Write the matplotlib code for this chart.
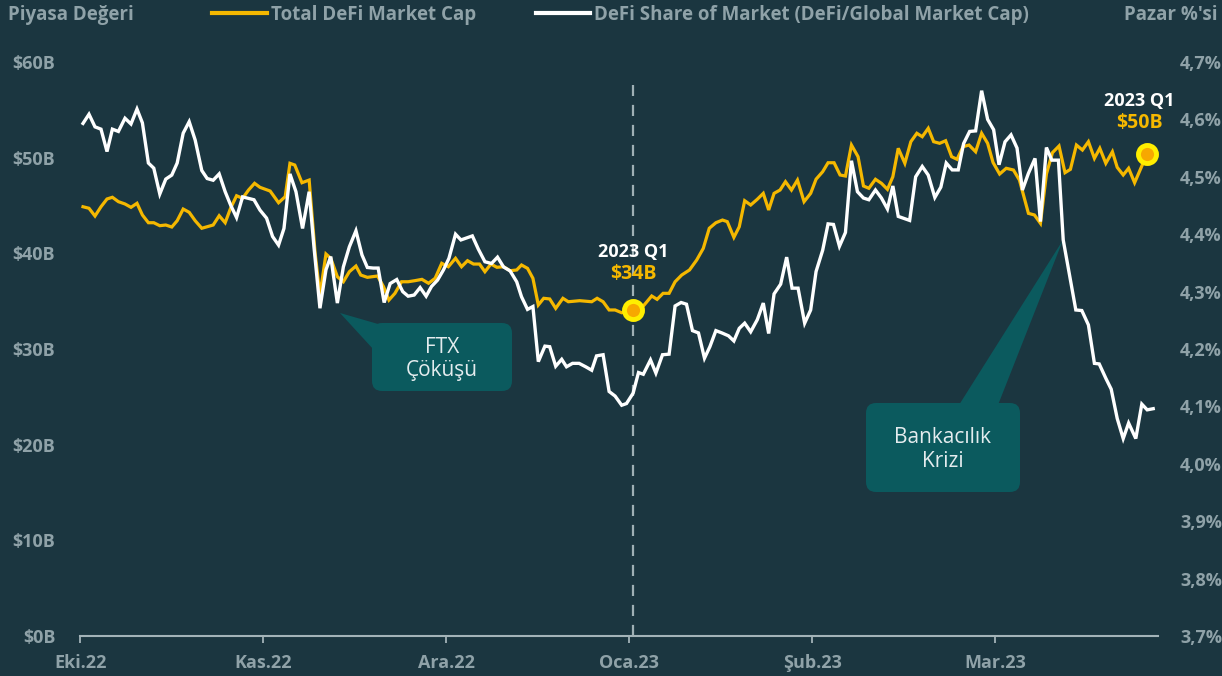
import numpy as np
import matplotlib.pyplot as plt
from matplotlib.lines import Line2D
from matplotlib.patches import FancyBboxPatch, Polygon
from matplotlib.ticker import FuncFormatter

plt.rcParams['font.family'] = ['Open Sans', 'DejaVu Sans']
plt.rcParams['font.weight'] = 'bold'

# x values are days since 1 Oct 2022
cap_days = [0.0, 1.0, 2.0, 3.0, 4.0, 4.9, 5.9, 7.0, 8.0, 9.0, 9.9, 10.9, 11.8, 12.8, 13.8, 14.8,
            15.7, 16.7, 17.7, 18.7, 19.8, 20.7, 21.7, 22.7, 23.7, 24.6, 25.6, 26.6, 27.6, 28.6,
            29.5, 31.2, 32.6, 33.7, 34.5, 35.3, 36.5, 37.7, 38.7, 39.5, 40.5, 41.3, 42.4, 43.4,
            44.4, 45.5, 46.3, 47.4, 49.1, 50.1, 51.0, 52.0, 53.1, 54.2, 55.3, 56.5, 57.6, 58.7,
            59.8, 60.9, 62.1, 63.1, 64.1, 65.1, 66.1, 67.0, 68.0, 69.0, 70.1, 71.2, 72.3, 73.1,
            74.1, 75.0, 75.9, 76.8, 77.8, 78.8, 80.0, 80.9, 82.8, 84.8, 85.7, 86.7, 87.7, 88.7,
            89.8, 91.7, 93.4, 94.8, 95.7, 96.7, 97.7, 98.7, 99.8, 101.1, 102.3, 103.4, 104.4,
            105.5, 106.6, 107.4, 108.5, 109.4, 110.3, 111.3, 112.4, 113.4, 114.3, 115.2, 116.2,
            117.1, 118.1, 119.1, 120.2, 121.3, 122.2, 123.3, 124.2, 125.2, 126.2, 127.1, 128.1,
            129.2, 130.1, 131.0, 132.1, 133.1, 134.1, 135.0, 135.9, 137.0, 138.0, 139.0, 139.9,
            140.9, 141.8, 142.8, 143.8, 144.8, 145.7, 146.7, 147.7, 148.8, 149.8, 150.8, 151.7,
            152.8, 153.9, 155.1, 156.1, 156.7, 157.6, 158.6, 159.6, 160.6, 161.6, 162.7, 163.7,
            164.6, 165.6, 166.6, 167.6, 168.6, 169.5, 170.5, 171.6, 172.4, 173.4, 174.3, 175.3,
            176.7, 177.3]
defi_cap = [44.87, 44.71, 43.90, 44.87, 45.68, 45.86, 45.40, 45.16, 44.81, 45.23, 44.01, 43.20,
            43.20, 42.89, 42.96, 42.75, 43.41, 44.63, 44.29, 43.41, 42.62, 42.78, 42.96, 43.93,
            43.20, 44.71, 46.02, 45.75, 46.62, 47.32, 46.90, 46.51, 45.29, 45.92, 49.41, 49.23,
            47.38, 47.66, 40.00, 35.64, 39.93, 39.48, 37.56, 37.03, 38.08, 38.67, 37.73, 37.49,
            37.63, 36.51, 35.12, 35.82, 37.03, 37.03, 37.14, 37.28, 36.87, 37.39, 38.96, 38.60,
            39.48, 38.60, 39.23, 38.88, 38.88, 38.08, 38.88, 38.54, 38.60, 38.18, 38.26, 38.78,
            38.43, 37.39, 34.60, 35.30, 35.23, 34.25, 35.30, 34.94, 35.05, 34.94, 35.30, 34.94,
            34.08, 34.08, 33.79, 34.08, 34.49, 35.54, 35.19, 35.82, 35.82, 37.03, 37.73, 38.26,
            39.30, 40.52, 42.62, 43.20, 43.48, 43.31, 41.67, 42.78, 45.50, 45.05, 45.65, 46.27,
            44.53, 46.27, 46.62, 47.49, 46.62, 47.66, 45.40, 46.27, 47.75, 48.53, 49.47, 49.47,
            48.19, 48.08, 51.32, 50.10, 47.04, 46.80, 47.74, 47.32, 46.69, 48.01, 50.98, 49.41,
            51.67, 52.55, 52.19, 53.07, 51.67, 51.50, 51.77, 50.10, 49.83, 51.15, 51.32, 50.62,
            52.55, 51.50, 49.50, 48.29, 48.89, 48.71, 47.66, 46.27, 44.18, 44.01, 43.14, 48.29,
            50.52, 51.22, 48.43, 48.78, 51.32, 50.80, 51.67, 49.93, 50.98, 49.41, 50.62, 48.99,
            48.19, 48.89, 47.38, 49.41, 50.38]

share_days = [0.0, 1.0, 2.0, 3.0, 4.0, 4.9, 5.9, 7.0, 8.0, 9.0, 9.9, 10.9, 11.8, 12.8, 13.8, 14.8,
              15.7, 16.7, 17.7, 18.7, 19.8, 20.7, 21.7, 22.7, 23.7, 24.6, 25.6, 26.6, 28.5, 29.5,
              30.6, 31.6, 32.6, 33.5, 34.5, 35.5, 36.6, 37.7, 38.5, 39.5, 40.5, 41.3, 42.4, 43.4,
              44.4, 45.5, 46.5, 47.4, 48.4, 49.2, 50.2, 51.2, 52.3, 53.3, 54.2, 55.2, 56.2, 57.2,
              58.1, 59.1, 60.1, 61.0, 62.1, 63.0, 64.9, 65.9, 67.0, 68.1, 69.1, 70.1, 71.2, 72.3,
              73.1, 74.1, 75.0, 75.9, 77.0, 77.8, 78.8, 79.8, 80.6, 81.6, 82.7, 83.8, 84.8, 85.6,
              86.7, 87.7, 88.7, 89.8, 90.6, 91.7, 92.6, 93.4, 94.6, 95.5, 96.6, 97.7, 98.7, 99.7,
              100.6, 101.6, 102.6, 103.6, 104.5, 105.5, 106.5, 107.6, 108.5, 109.4, 110.3, 111.3,
              112.4, 113.4, 114.3, 115.2, 116.3, 117.3, 118.2, 119.2, 120.3, 121.3, 122.2, 123.3,
              124.2, 125.1, 126.1, 127.1, 128.1, 129.1, 130.1, 131.0, 132.1, 133.1, 134.1, 135.0,
              135.9, 137.8, 138.8, 139.9, 140.9, 142.0, 143.0, 143.9, 144.9, 145.9, 146.8, 147.8,
              148.8, 149.8, 150.8, 151.8, 152.7, 153.7, 154.7, 155.7, 156.6, 157.6, 158.7, 159.6,
              160.6, 161.5, 162.6, 163.4, 164.4, 165.5, 166.5, 167.6, 168.6, 169.4, 170.5, 171.4,
              172.4, 173.4, 174.3, 175.5, 176.5, 177.4, 178.4]
defi_share = [4.593, 4.609, 4.587, 4.583, 4.544, 4.583, 4.579, 4.602, 4.592, 4.618, 4.594, 4.524,
              4.515, 4.470, 4.496, 4.503, 4.524, 4.576, 4.596, 4.564, 4.511, 4.497, 4.494, 4.505,
              4.474, 4.451, 4.429, 4.465, 4.460, 4.442, 4.428, 4.396, 4.381, 4.410, 4.505, 4.474,
              4.410, 4.474, 4.378, 4.271, 4.338, 4.361, 4.280, 4.343, 4.378, 4.406, 4.364, 4.342,
              4.341, 4.341, 4.281, 4.314, 4.321, 4.300, 4.292, 4.294, 4.307, 4.292, 4.309, 4.320,
              4.338, 4.358, 4.400, 4.390, 4.397, 4.374, 4.352, 4.349, 4.360, 4.343, 4.336, 4.317,
              4.291, 4.269, 4.274, 4.178, 4.205, 4.204, 4.170, 4.182, 4.169, 4.175, 4.175, 4.169,
              4.163, 4.188, 4.190, 4.126, 4.118, 4.102, 4.105, 4.123, 4.159, 4.156, 4.181, 4.158,
              4.190, 4.191, 4.275, 4.281, 4.278, 4.232, 4.228, 4.184, 4.204, 4.232, 4.228, 4.223,
              4.214, 4.236, 4.245, 4.230, 4.251, 4.280, 4.227, 4.296, 4.313, 4.360, 4.306, 4.306,
              4.245, 4.268, 4.335, 4.372, 4.418, 4.417, 4.379, 4.403, 4.528, 4.474, 4.463, 4.460,
              4.477, 4.463, 4.444, 4.484, 4.431, 4.424, 4.500, 4.518, 4.503, 4.464, 4.482, 4.524,
              4.512, 4.512, 4.558, 4.579, 4.580, 4.650, 4.600, 4.582, 4.521, 4.561, 4.573, 4.550,
              4.477, 4.506, 4.532, 4.422, 4.551, 4.529, 4.529, 4.390, 4.332, 4.268, 4.267, 4.242,
              4.175, 4.174, 4.149, 4.130, 4.079, 4.044, 4.071, 4.044, 4.104, 4.094, 4.096]

month_labels = ['Eki.22', 'Kas.22', 'Ara.22', 'Oca.23', 'Şub.23', 'Mar.23']
month_ticks = [-0.45, 30.05, 60.55, 91.05, 121.55, 152.05]
q1_days = [91.7, 177.3]   # 2023 Q1 call-outs

BG = '#1b3640'
GOLD = '#f5b800'
GREY = '#8fa2a8'
BOX = '#0b5a5e'

W, H = 1222, 676
fig = plt.figure(figsize=(W / 100, H / 100), dpi=100, facecolor=BG)
ax = fig.add_axes([80.3 / W, 40 / H, (1158 - 80.3) / W, 574 / H])
ax.set_facecolor(BG)
ax2 = ax.twinx()

ax.plot(cap_days, defi_cap, color=GOLD, lw=2.3, zorder=3, solid_joinstyle='miter')
ax2.plot(share_days, defi_share, color='white', lw=2.4, zorder=3, solid_joinstyle='miter')

# dashed year marker
ax.vlines(q1_days[0], 0, 57.6, colors='#9fb0b5', linestyles=(0, (5, 4)), lw=1.6, zorder=1)

# Q1 markers + labels
for d in q1_days:
    v = defi_cap[cap_days.index(d)]
    ax2.plot(d, 3.7 + v / 60, 'o', ms=13, mfc='#f7a800', mec='#ffee00', mew=3.5, zorder=6)
    dx = 0 if d < 150 else -5
    dy = 42 if d < 150 else 38
    ax2.annotate('2023 Q1', (d, 3.7 + v / 60), xytext=(dx, dy), textcoords='offset points',
                 ha='center', va='center', color='white', fontsize=13, fontweight='bold')
    ax2.annotate(f'${v:.0f}B', (d, 3.7 + v / 60), xytext=(dx, dy - 16), textcoords='offset points',
                 ha='center', va='center', color=GOLD, fontsize=14, fontweight='bold')

# call-out boxes (drawn in inches from the figure origin)
tr = fig.dpi_scale_trans
callouts = [
    ('FTX\nÇöküşü', (3.72, 2.85, 1.40, 0.68), [(3.40, 3.63), (3.85, 3.50), (3.85, 3.14)]),
    ('Bankacılık\nKrizi', (8.66, 1.84, 1.54, 0.89), [(10.63, 4.36), (9.59, 2.71), (9.98, 2.71)]),
]
for txt, (x0, y0, w, h), wedge in callouts:
    ax.add_patch(Polygon(wedge, closed=True, transform=tr, fc=BOX, ec='none', zorder=2, clip_on=False))
    ax.add_patch(FancyBboxPatch((x0, y0), w, h, boxstyle='round,pad=0,rounding_size=0.1',
                                transform=tr, fc=BOX, ec='none', zorder=2, clip_on=False))
    ax.text(x0 + w / 2, y0 + h / 2 - 0.02, txt, transform=tr, ha='center', va='center',
            color='#e4ecee', fontsize=15, fontweight='normal', linespacing=1.15, zorder=4)

ax.set_xlim(-0.45, 179.2)
ax.set_ylim(0, 60)
ax2.set_ylim(3.7, 4.7)
ax.set_yticks(range(0, 61, 10))
ax.yaxis.set_major_formatter(FuncFormatter(lambda v, p: f'${v:.0f}B'))
ax2.set_yticks(np.round(np.arange(3.7, 4.71, 0.1), 1))
ax2.yaxis.set_major_formatter(FuncFormatter(lambda v, p: f'{v:.1f}%'.replace('.', ',')))
ax.set_xticks(month_ticks)
ax.set_xticklabels(month_labels)

for a in (ax, ax2):
    for s in a.spines.values():
        s.set_visible(False)
ax.spines['bottom'].set_visible(True)
ax.spines['bottom'].set_color('#a3b3b8')
ax.spines['bottom'].set_linewidth(1.5)
ax.tick_params(axis='y', length=0, labelcolor=GREY, labelsize=13, pad=18)
ax2.tick_params(axis='y', length=0, labelcolor=GREY, labelsize=13, pad=16)
ax.tick_params(axis='x', length=5, width=1.3, color='#a3b3b8', labelcolor=GREY, labelsize=13, pad=8)

# header
fig.text(8 / W, 1 - 15 / H, 'Piyasa Değeri', ha='left', va='center', color=GREY, fontsize=13.5)
fig.text(1218 / W, 1 - 15 / H, "Pazar %'si", ha='right', va='center', color=GREY, fontsize=13.5)
handles = [Line2D([], [], color=GOLD, lw=3), Line2D([], [], color='white', lw=3)]
fig.legend(handles, ['Total DeFi Market Cap', 'DeFi Share of Market (DeFi/Global Market Cap)'],
           loc='center', bbox_to_anchor=(0.508, 1 - 15 / H), ncol=2, frameon=False, fontsize=13.5,
           labelcolor=GREY, handlelength=2.9, handletextpad=0.22, columnspacing=3.2)

fig.savefig('out.png', dpi=100, facecolor=BG)
